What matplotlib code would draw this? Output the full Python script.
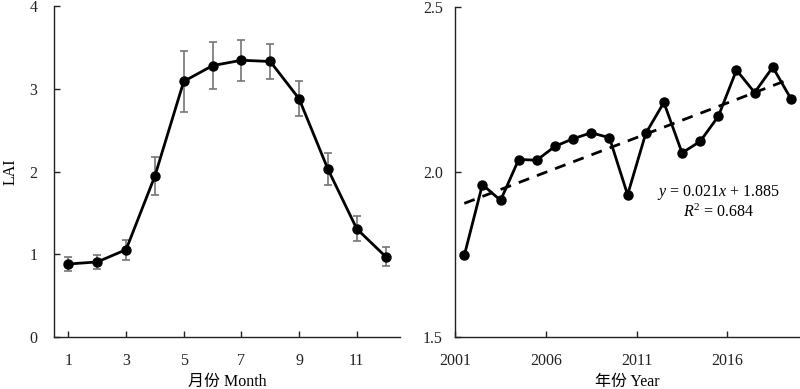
import numpy as np
import matplotlib
matplotlib.use("Agg")
import matplotlib.pyplot as plt

plt.rcParams['font.family'] = ['Liberation Serif', 'Noto Sans CJK SC']
plt.rcParams['mathtext.fontset'] = 'custom'
plt.rcParams['mathtext.it'] = 'Liberation Serif:italic'
plt.rcParams['mathtext.rm'] = 'Liberation Serif'

# monthly LAI (mean +- sd)
months = np.arange(1, 13)
lai_month = [0.885, 0.91, 1.058, 1.948, 3.09, 3.28, 3.345, 3.33, 2.88, 2.03, 1.31, 0.975]
lai_err = [0.08, 0.08, 0.12, 0.23, 0.37, 0.28, 0.25, 0.21, 0.21, 0.19, 0.15, 0.11]

# annual LAI
years = np.arange(2001, 2020)
lai_year = [1.748, 1.963, 1.915, 2.039, 2.037, 2.079, 2.102, 2.12, 2.105, 1.932,
            2.118, 2.212, 2.059, 2.094, 2.17, 2.31, 2.242, 2.319, 2.223]
slope, intercept = 0.021, 1.885  # fitted trend, x = 1..19
year_ticks = [2001, 2006, 2011, 2016]

fig = plt.figure(figsize=(8, 3.89), dpi=100)
ax1 = fig.add_axes([0.0675, 0.1329, 0.4325, 0.8517])
ax2 = fig.add_axes([0.569, 0.1329, 0.431, 0.848])

fs = 11.5
for ax in (ax1, ax2):
    for s in ('top', 'right'):
        ax.spines[s].set_visible(False)
    for s in ('left', 'bottom'):
        ax.spines[s].set_linewidth(1.0)
        ax.spines[s].set_color('#222222')
    ax.tick_params(direction='in', length=4, width=1, labelsize=fs, colors='#222222')
    ax.tick_params(axis='x', pad=11)

# left panel
ax1.errorbar(months, lai_month, yerr=lai_err, color='black', lw=2, marker='o', ms=6.5,
             ecolor='#7a7474', elinewidth=1.2, capsize=3, capthick=1.2)
ax1.set_xlim(0.5, 12.5)
ax1.set_ylim(0, 4)
ax1.set_xticks([1, 3, 5, 7, 9, 11])
ax1.set_yticks([0, 1, 2, 3, 4])
ax1.tick_params(axis='y', pad=12)
ax1.set_ylabel('LAI', fontsize=fs, labelpad=8)
ax1.set_xlabel('月份 Month', fontsize=fs, labelpad=4)

# right panel
ax2.plot(years, lai_year, color='black', lw=2, marker='o', ms=6.5)
idx = np.arange(1, len(years) + 1)
ax2.plot(years, slope * idx + intercept, color='black', lw=2, ls=(0, (4, 3)))
ax2.set_xlim(2000.5, 2019.5)
ax2.set_ylim(1.5, 2.5)
ax2.set_xticks([y - 0.5 for y in year_ticks])
ax2.set_xticklabels([str(y) for y in year_ticks])
ax2.set_yticks([1.5, 2.0, 2.5])
ax2.set_yticklabels(['1.5', '2.0', '2.5'])
ax2.tick_params(axis='y', pad=9)
ax2.set_xlabel('年份 Year', fontsize=fs, labelpad=4)
ax2.text(2015.0, 1.91, r'$y$ = 0.021$x$ + 1.885', fontsize=fs, ha='center', va='bottom')
ax2.text(2015.0, 1.905, r'$R$$^2$ = 0.684', fontsize=fs, ha='center', va='top')

fig.savefig('out.png', dpi=100)
